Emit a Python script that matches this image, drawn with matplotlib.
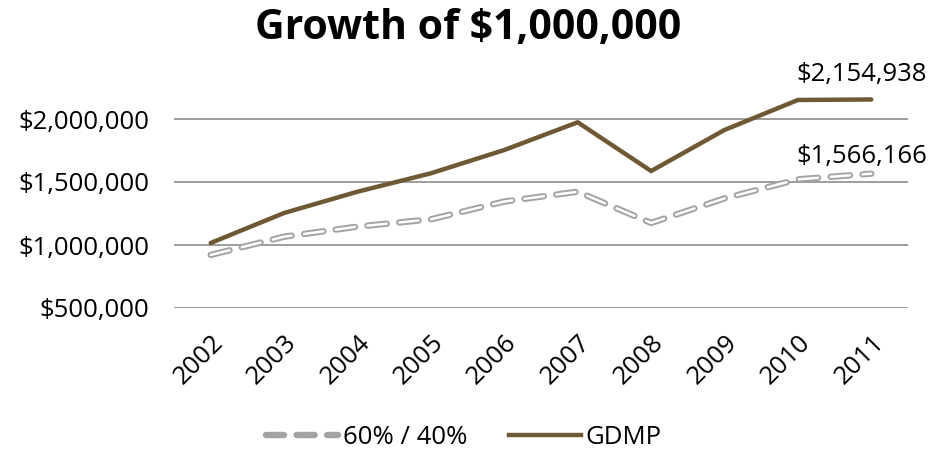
import matplotlib
matplotlib.use("Agg")
import matplotlib.pyplot as plt
from matplotlib.lines import Line2D
from matplotlib.ticker import FuncFormatter

plt.rcParams['font.family'] = ['Open Sans', 'DejaVu Sans']
plt.rcParams['lines.scale_dashes'] = False

years = ['2002', '2003', '2004', '2005', '2006', '2007', '2008', '2009', '2010', '2011']
gdmp = [1016000, 1254000, 1423000, 1569000, 1754000, 1974000, 1587000, 1913000, 2151000, 2154938]
mix_60_40 = [921000, 1066000, 1146000, 1204000, 1345000, 1423000, 1175000, 1370000, 1521000, 1566166]

brown = '#6F5934'
grey = '#A3A3A3'
fs = 18.5

W, H = 947, 449
fig = plt.figure(figsize=(W / 100, H / 100), dpi=100)
ax = fig.add_axes([174 / W, 1 - 308 / H, (908 - 174) / W, (308 - 56) / H])

x = list(range(len(years)))

# outlined dash look: thick grey dashes with a thin white core
ax.plot(x, mix_60_40, color=grey, lw=4.6, dashes=(14, 9), dash_capstyle='round',
        solid_joinstyle='round', zorder=3)
ax.plot(x, mix_60_40, color='white', lw=1.8, dashes=(14, 9), dash_capstyle='round',
        zorder=4)
ax.plot(x, gdmp, color=brown, lw=3.2, solid_capstyle='round', solid_joinstyle='round',
        zorder=5)

ax.set_xlim(-0.5, len(years) - 0.5)
ax.set_ylim(500000, 2500000)
ax.set_yticks([500000, 1000000, 1500000, 2000000])
ax.yaxis.set_major_formatter(FuncFormatter(lambda v, p: '${:,.0f}'.format(v)))
ax.set_xticks(x)
ax.set_xticklabels(years, rotation=45, ha='right', rotation_mode='anchor')
ax.tick_params(axis='both', length=0, labelsize=fs, colors='black')
ax.tick_params(axis='y', pad=18)
ax.tick_params(axis='x', pad=16)
ax.grid(axis='y', color='#8C8C8C', lw=1.2, zorder=0)
for s in ax.spines.values():
    s.set_visible(False)

ax.annotate('${:,.0f}'.format(gdmp[-1]), (x[-1], gdmp[-1]), xytext=(-7, 9),
            textcoords='offset points', ha='center', va='bottom', fontsize=fs,
            annotation_clip=False)
ax.annotate('${:,.0f}'.format(mix_60_40[-1]), (x[-1], mix_60_40[-1]), xytext=(-7, 3),
            textcoords='offset points', ha='center', va='bottom', fontsize=fs,
            annotation_clip=False)

fig.text(0.494, 1 - 29 / H, 'Growth of $1,000,000', ha='center', va='center',
         fontsize=29.5, fontweight='bold')

handles = [Line2D([], [], color=grey, lw=4.6, dashes=(13, 9), dash_capstyle='round'),
           Line2D([], [], color=brown, lw=3.2)]
fig.legend(handles, ['60% / 40%', 'GDMP'], loc='center', bbox_to_anchor=(0.49, 1 - 437 / H),
           ncol=2, frameon=False, fontsize=fs, handlelength=2.8, columnspacing=1.6,
           handletextpad=0.2, borderpad=0)

fig.savefig('out.png', dpi=100)
